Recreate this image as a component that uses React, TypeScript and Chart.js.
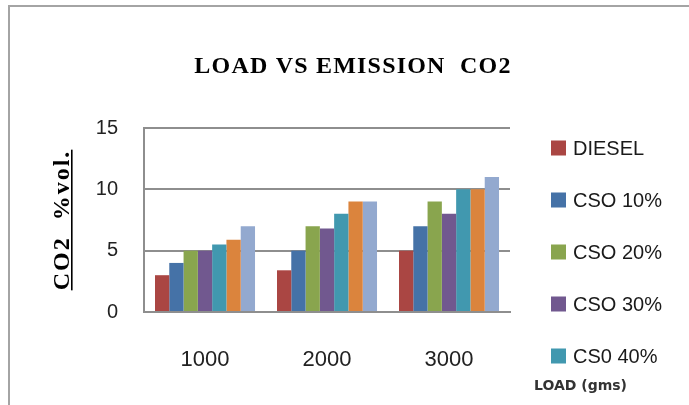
import { useEffect, useRef } from "react";
import { Chart, registerables } from "chart.js";

Chart.register(...registerables);

// Engine load (gms) on the category axis
const loads = ["1000", "2000", "3000"];

// CO2 emission (% vol.) per fuel blend
const seriesNames = ["DIESEL", "CSO 10%", "CSO 20%", "CSO 30%", "CS0 40%", "CSO 50%", "CSO 60%"];
const diesel = [3, 3.4, 5];
const cso10 = [4, 5, 7];
const cso20 = [5, 7, 9];
const cso30 = [5, 6.8, 8];
const cso40 = [5.5, 8, 10];
const cso50 = [5.9, 9, 10];
const cso60 = [7, 9, 11];
const seriesValues = [diesel, cso10, cso20, cso30, cso40, cso50, cso60];

const seriesColors = ["#AA4643", "#4572A7", "#89A54E", "#71588F", "#4198AF", "#DB843D", "#93A9CF"];

const yMin = 0;
const yMax = 15;
const yStep = 5;

const titleText = "LOAD VS EMISSION  CO2";
const yTitleText = "CO2  %vol.";
const xTitleText = "LOAD (gms)";
const legendCount = 5; // entries that fit in the legend column

const W = 689;
const H = 405;

const decorations = {
  id: "decorations",
  afterDraw(chart: any) {
    const { ctx, chartArea } = chart;
    ctx.save();

    // outer frame (left and top edges)
    ctx.strokeStyle = "#a4a4a4";
    ctx.lineWidth = 2;
    ctx.beginPath();
    ctx.moveTo(9, H);
    ctx.lineTo(9, 6);
    ctx.lineTo(W, 6);
    ctx.stroke();

    // main title
    ctx.fillStyle = "#000";
    ctx.font = "bold 24px 'Liberation Serif', serif";
    (ctx as any).letterSpacing = "1.2px";
    ctx.textAlign = "center";
    ctx.textBaseline = "alphabetic";
    ctx.fillText(titleText, 353, 73);

    // rotated, underlined y-axis title
    ctx.save();
    ctx.translate(69, 220);
    ctx.rotate(-Math.PI / 2);
    (ctx as any).letterSpacing = "2px";
    ctx.font = "bold 24px 'Liberation Serif', serif";
    ctx.textAlign = "center";
    ctx.fillText(yTitleText, 0, 0);
    const tw = ctx.measureText(yTitleText).width;
    ctx.fillRect(-tw / 2, 2, tw, 1.6);
    ctx.restore();

    // legend column
    (ctx as any).letterSpacing = "0px";
    ctx.font = "20px 'Liberation Sans', sans-serif";
    ctx.textAlign = "left";
    ctx.textBaseline = "middle";
    const lx = chartArea.right + 41;
    chart.data.datasets.slice(0, legendCount).forEach((ds: any, i: number) => {
      const cy = chartArea.top + 20 + i * 52;
      ctx.fillStyle = ds.backgroundColor;
      ctx.fillRect(lx, cy - 7.5, 15, 15);
      ctx.fillStyle = "#1a1a1a";
      ctx.fillText(ds.label, lx + 22, cy + 1);
    });

    // x-axis title
    ctx.font = "bold 14px 'DejaVu Sans', sans-serif";
    ctx.fillStyle = "#333";
    ctx.textBaseline = "alphabetic";
    ctx.fillText(xTitleText, 534, 390);

    ctx.restore();
  },
};

export default function App() {
  const canvasRef = useRef<HTMLCanvasElement | null>(null);

  useEffect(() => {
    if (!canvasRef.current) return;
    const chart = new Chart(canvasRef.current, {
      type: "bar",
      data: {
        labels: loads,
        datasets: seriesNames.map((name, i) => ({
          label: name,
          data: seriesValues[i],
          backgroundColor: seriesColors[i],
          borderWidth: 0,
          categoryPercentage: 0.82,
          barPercentage: 1.0,
        })),
      },
      options: {
        animation: false,
        responsive: false,
        devicePixelRatio: 1,
        layout: { padding: { left: 0, top: 128, right: 179, bottom: 0 } },
        plugins: {
          legend: { display: false },
          title: { display: false },
          tooltip: { enabled: false },
        },
        scales: {
          x: {
            grid: { display: false, drawTicks: false },
            border: { display: true, color: "#8e8e8e", width: 2 },
            ticks: {
              padding: 35,
              color: "#222",
              font: { family: "'Liberation Sans', sans-serif", size: 22 },
            },
            afterFit: (s: any) => {
              s.height = 93;
            },
          },
          y: {
            min: yMin,
            max: yMax,
            ticks: {
              stepSize: yStep,
              padding: 26,
              color: "#222",
              font: { family: "'Liberation Sans', sans-serif", size: 20 },
            },
            grid: { color: "#8e8e8e", lineWidth: 2, drawTicks: false },
            border: { display: true, color: "#8e8e8e", width: 2 },
            afterFit: (s: any) => {
              s.width = 144;
            },
          },
        },
      },
      plugins: [decorations],
    });
    return () => chart.destroy();
  }, []);

  return (
    <div style={{ position: "fixed", left: 0, top: 0, width: W, height: H, background: "#fff" }}>
      <canvas ref={canvasRef} width={W} height={H} />
    </div>
  );
}
